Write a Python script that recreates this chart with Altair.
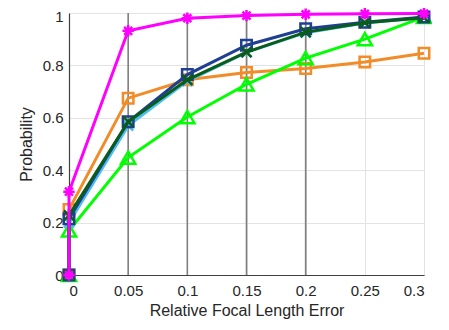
import altair as alt
import pandas as pd

xs = [0, 0, 0.05, 0.1, 0.15, 0.2, 0.25, 0.3]
orange = [0, 0.25, 0.675, 0.745, 0.773, 0.788, 0.813, 0.846]
bright_green = [0, 0.17, 0.448, 0.603, 0.728, 0.828, 0.9, 0.985]
cyan = [0, 0.2, 0.57, 0.74, 0.85, 0.925, 0.962, 0.983]
blue = [0, 0.215, 0.585, 0.765, 0.877, 0.94, 0.965, 0.985]
dark_green = [0, 0.228, 0.585, 0.745, 0.851, 0.927, 0.963, 0.982]
magenta = [0, 0.318, 0.932, 0.98, 0.99, 0.995, 0.997, 0.998]

dark_lines = [0.05, 0.1, 0.15, 0.2]

ASTERISK = "M-1,0L1,0M0,-1L0,1M-0.7,-0.7L0.7,0.7M-0.7,0.7L0.7,-0.7"
XMARK = "M-1,-1L1,1M-1,1L1,-1"

series = [
    ("orange", orange, "#F28C28", "square", 110),
    ("bright_green", bright_green, "#00FF00", "triangle-up", 200),
    ("cyan", cyan, "#4DBEEE", XMARK, 100),
    ("blue", blue, "#1F3F94", "square", 110),
    ("dark_green", dark_green, "#0A5C1A", XMARK, 100),
    ("magenta", magenta, "#FF00FF", ASTERISK, 130),
]

xscale = alt.Scale(domain=[0, 0.3], nice=False, zero=False)
yscale = alt.Scale(domain=[0, 1], nice=False)

font = "Liberation Sans"

xaxis = alt.Axis(values=[0, 0.05, 0.1, 0.15, 0.2, 0.25, 0.3], format="~g",
                 title="Relative Focal Length Error", grid=True)
yaxis = alt.Axis(values=[0, 0.2, 0.4, 0.6, 0.8, 1], format="~g",
                 title="Probability", grid=True,
                 labelOffset={"condition": {"test": "datum.value === 1", "value": 3}, "value": 0})

rules_df = pd.DataFrame({"x": dark_lines, "y0": [0] * len(dark_lines), "y1": [1] * len(dark_lines)})
rules = alt.Chart(rules_df).mark_rule(color="#7F7F7F", strokeWidth=1.6).encode(
    x=alt.X("x:Q", scale=xscale, axis=xaxis),
    y=alt.Y("y0:Q", scale=yscale, axis=yaxis),
    y2="y1:Q",
)

layers = [rules]
for name, vals, color, shape, size in series:
    df = pd.DataFrame({"x": xs, "y": vals, "i": list(range(len(xs)))})
    base = alt.Chart(df).encode(
        x=alt.X("x:Q", scale=xscale),
        y=alt.Y("y:Q", scale=yscale),
        order="i:Q",
    )
    line = base.mark_line(color=color, strokeWidth=3)
    pts = base.mark_point(shape=shape, filled=False, stroke=color, strokeWidth=2.5, size=size, opacity=1)
    layers.append(line)
    layers.append(pts)

chart = alt.layer(*layers).properties(
    width=355, height=262,
    padding={"left": 61, "top": 5, "right": 8, "bottom": 47},
    autosize=alt.AutoSizeParams(type="none"),
).configure_view(stroke=None).configure_axis(
    labelFont=font, titleFont=font, labelFontSize=15, titleFontSize=16,
    labelColor="#262626", titleColor="#262626", titleFontWeight="normal",
    domainColor="#404040", domainWidth=1.2, tickSize=0,
    gridColor="#E3E3E3", gridWidth=1,
).configure_axisX(labelPadding=8, titlePadding=4).configure_axisY(labelPadding=6, titlePadding=8)

chart.save("out.html", embed_options={"renderer": "svg", "actions": False})
